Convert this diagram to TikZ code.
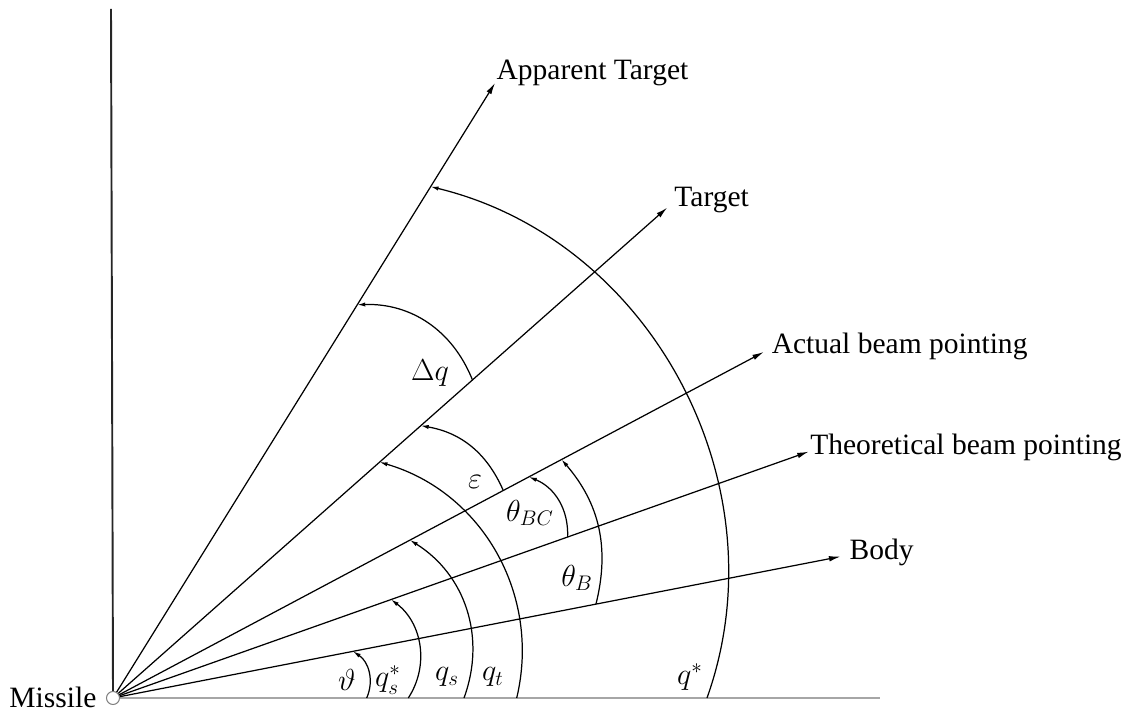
\documentclass[tikz,border=0pt]{standalone}
\usepackage{amsmath}
\usepackage{fontspec}
\setmainfont{Liberation Serif}
\usetikzlibrary{arrows.meta, calc}

\begin{document}
\begin{tikzpicture}[x=0.02cm, y=0.02cm, line width=0.7pt,
  >={Latex[length=6.5pt, width=3.2pt]},
  angarrow/.style={-{Latex[length=4.5pt, width=2.4pt]}},
  lbl/.style={inner sep=0pt, anchor=base west},
  font=\fontsize{16.8}{20}\selectfont]

\useasboundingbox (-113,-13) rectangle (1017,698);

% Coordinates (1 unit = 1 px, origin at the missile)
\coordinate (Body) at (11.0:741);
\coordinate (Theo) at (19.5:738);
\coordinate (Act) at (28.0:737);
\coordinate (Tgt) at (41.5:740);
\coordinate (App) at (58.15:724);
\coordinate (Xend) at (767,0);
\coordinate (Yend) at (-2,689);

% Missile and axes
\node[circle, draw=gray, fill=white, line width=0.6pt, minimum size=0.26cm, inner sep=0pt] (M) at (0,0) {};
\node[lbl, anchor=base east] (lmis) at (-16,-9) {Missile};
\draw[gray!70, line width=1.6pt] (M.east) -- (Xend);
\draw[black!85, line width=1.1pt] (M.north) -- (Yend);

% Lines of sight
\draw[->] (M) -- (Body);
\draw[->] (M) -- (Theo);
\draw[->] (M) -- (Act);
\draw[->] (M) -- (Tgt);
\draw[->] (M) -- (App);

\node[lbl] (lbody) at ($(Body)+(8.6,-3.3)$) {Body};
\node[lbl] (ltheo) at ($(Theo)+(1,-3.3)$) {Theoretical beam pointing};
\node[lbl] (lact) at ($(Act)+(7.4,-1.6)$) {Actual beam pointing};
\node[lbl] (ltgt) at ($(Tgt)+(6.6,1.6)$) {Target};
\node[lbl] (lapp) at ($(App)+(1,4)$) {Apparent Target};

% Angle arcs
\coordinate (th-a) at (0:253.7);   \coordinate (th-b) at (11:244.5);
\coordinate (qss-a) at (0:295.3);  \coordinate (qss-b) at (19.5:295);
\coordinate (qs-a) at (0:351);     \coordinate (qs-b) at (28:336.4);
\coordinate (qt-a) at (0:403.7);   \coordinate (qt-b) at (41.5:356);
\coordinate (qst-a) at (0:594);    \coordinate (qst-b) at (58.15:602);
\coordinate (tb-a) at (11:492);    \coordinate (tb-b) at (28:508);
\coordinate (tbc-a) at (19.5:482.3); \coordinate (tbc-b) at (28:471);
\coordinate (eps-a) at (28:442);   \coordinate (eps-b) at (41.5:411);
\coordinate (dq-a) at (41.5:480);  \coordinate (dq-b) at (58.15:463);

\draw[angarrow] (th-a) to[bend right=40] (th-b);
\draw[angarrow] (qss-a) to[bend right=43] (qss-b);
\draw[angarrow] (qs-a) to[bend right=39] (qs-b);
\draw[angarrow] (qt-a) to[bend right=43.6] (qt-b);
\draw[angarrow] (qst-a) to[bend right=48] (qst-b);
\draw[angarrow] (tb-a) to[bend right=27.4] (tb-b);
\draw[angarrow] (tbc-a) to[bend right=35] (tbc-b);
\draw[angarrow] (eps-a) to[bend right=28.3] (eps-b);
\draw[angarrow] (dq-a) to[bend right=35] (dq-b);

% Angle labels
\node (lth) at (234,18) {$\vartheta$};
\node (lqss) at (275,18) {$q_s^*$};
\node (lqs) at (334,21) {$q_s$};
\node (lqt) at (380,21) {$q_t$};
\node (lqst) at (577,21) {$q^*$};
\node (ltb) at (464,120) {$\theta_B$};
\node (ltbc) at (417,185) {$\theta_{BC}$};
\node (leps) at (362,216) {$\varepsilon$};
\node (ldq) at (317,325) {$\Delta q$};

\end{tikzpicture}
\end{document}
